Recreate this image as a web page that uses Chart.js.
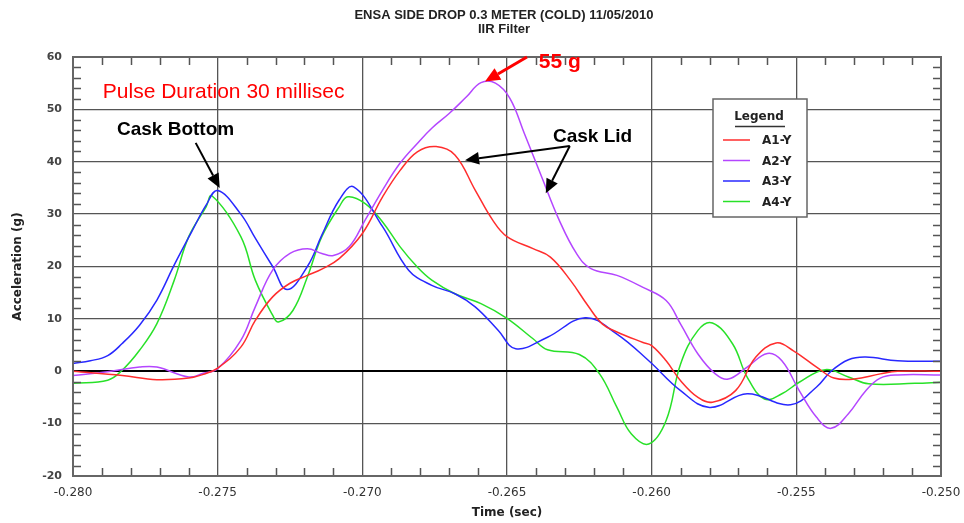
<!DOCTYPE html>
<html>
<head>
<meta charset="utf-8">
<script src="https://cdn.jsdelivr.net/npm/chart.js@4.4.1/dist/chart.umd.min.js"></script>
<style>
  html, body { margin: 0; padding: 0; background: #fff; }
  #wrap { width: 964px; height: 523px; }
</style>
</head>
<body>
<div id="wrap"><canvas id="chart" width="964" height="523"></canvas></div>
<script>
// --- data (time in sec, acceleration in g) ---
const seriesNames = ['A1-Y', 'A2-Y', 'A3-Y', 'A4-Y'];
const seriesColors = ['rgb(255,45,45)', 'rgb(180,70,255)', 'rgb(40,40,255)', 'rgb(40,225,40)'];

const a1Time = [-0.2800,-0.2783,-0.2771,-0.2760,-0.2755,-0.2750,-0.2742,-0.2737,-0.2731,-0.2725,-0.2719,-0.2714,-0.2708,-0.2700,-0.2693,-0.2687,-0.2681,-0.26745,-0.2668,-0.2661,-0.2655,-0.2650,-0.2641,-0.2635,-0.2628,-0.2622,-0.2617,-0.2612,-0.2603,-0.2600,-0.2595,-0.2590,-0.2584,-0.2579,-0.2571,-0.2564,-0.2557,-0.2551,-0.2543,-0.2537,-0.2530,-0.2521,-0.2515,-0.2500];
const a1Accel = [0,-0.8,-1.6,-1.3,-0.6,0.6,4.6,9.7,14.2,16.8,18.3,19.5,21.5,26.3,33.3,38.3,41.9,42.9,41.3,34.6,28.9,25.7,23.4,21.8,17.3,12.5,9,7.5,5.5,4.9,2,-1.8,-5,-5.9,-3.7,2.7,5.4,3.9,0.8,-1.3,-1.5,-0.5,0,0];

const a2Time = [-0.2800,-0.2788,-0.2777,-0.2771,-0.2760,-0.2755,-0.2750,-0.2742,-0.2737,-0.2731,-0.2725,-0.2719,-0.2714,-0.2710,-0.27045,-0.2699,-0.2693,-0.2687,-0.2681,-0.2676,-0.2670,-0.2664,-0.2659,-0.2654,-0.2649,-0.2644,-0.2638,-0.2632,-0.2626,-0.2621,-0.2612,-0.2603,-0.2595,-0.2590,-0.2584,-0.2578,-0.25735,-0.2567,-0.2560,-0.2555,-0.2549,-0.2543,-0.2538,-0.2532,-0.2526,-0.2521,-0.2515,-0.2500];
const a2Accel = [-0.8,-0.1,0.8,0.8,-1.1,-0.4,0.5,5.9,12.3,19.3,22.5,23.4,22.5,22.1,23.8,28.9,34.6,39.7,43.5,46.4,49.2,52.4,55.1,55,52.1,45.4,37.1,28.9,22.5,19.6,18.3,16,13.5,9,3.3,-0.5,-1.5,0.8,3.4,2,-3.7,-8.8,-10.9,-8.1,-3.7,-1.3,-0.7,-0.7];

const a3Time = [-0.2800,-0.2794,-0.2788,-0.2783,-0.2777,-0.2771,-0.2765,-0.2759,-0.2754,-0.2750,-0.2742,-0.2737,-0.2731,-0.2726,-0.2719,-0.2714,-0.2708,-0.2703,-0.2693,-0.2684,-0.2676,-0.2668,-0.2661,-0.2653,-0.2647,-0.2636,-0.2623,-0.2612,-0.2601,-0.2590,-0.2580,-0.2567,-0.2552,-0.2543,-0.2538,-0.2532,-0.2526,-0.2515,-0.2500];
const a3Accel = [1.5,2.0,3.0,5.3,8.8,13.6,20.3,26.6,31.7,34.5,30,25.4,20,15.6,20,26,32.7,35.2,27.6,19.3,16.4,14.8,12.3,7.8,4.3,6.5,10.2,7.1,2,-3.7,-6.9,-4.3,-6.4,-3,0,2.2,2.7,2,1.9];

const a4Time = [-0.2800,-0.2788,-0.2783,-0.2777,-0.2771,-0.2765,-0.2760,-0.2754,-0.2752,-0.2742,-0.2737,-0.2731,-0.2729,-0.2724,-0.2719,-0.2714,-0.2708,-0.2705,-0.2699,-0.2693,-0.2687,-0.2681,-0.2676,-0.2668,-0.2659,-0.2650,-0.2641,-0.2636,-0.2625,-0.2618,-0.2612,-0.2607,-0.2601,-0.2595,-0.2590,-0.2584,-0.2579,-0.2572,-0.2567,-0.2561,-0.2555,-0.2549,-0.2540,-0.2532,-0.2525,-0.2509,-0.2500];
const a4Accel = [-2.3,-1.7,0.2,4,9.1,17.4,25.7,31.4,33.5,25.7,17.4,10.7,9.4,11.6,18,25.7,31.4,33.3,32,28.5,23.8,19.9,17.4,14.8,12.9,10.1,6.2,4.1,3.2,-0.5,-6.9,-12,-13.9,-9.4,1.4,7.8,9.2,5.2,-1.1,-5.3,-4.3,-2.1,0.3,-1.1,-2.4,-2.3,-2.1];

const xMin = -0.280, xMax = -0.250, xStep = 0.005, xMinorStep = 0.001;
const yMin = -20, yMax = 60, yStep = 10, yMinorStep = 2;

const titleLines = ['ENSA SIDE DROP 0.3 METER (COLD) 11/05/2010', 'IIR Filter'];

// annotation text and arrows, positioned in data units
const notes = [
  { text: 'Pulse Duration 30 millisec', t: -0.27897, g: 53.3, color: '#ff0000', font: '21px "Liberation Sans", Arial, sans-serif' },
  { text: 'Cask Bottom', t: -0.27848, g: 46.1, color: '#000', font: 'bold 19px "Liberation Sans", Arial, sans-serif' },
  { text: 'Cask Lid', t: -0.26341, g: 44.7, color: '#000', font: 'bold 19px "Liberation Sans", Arial, sans-serif' },
  { text: '55 g', t: -0.2639, g: 59.1, color: '#ff0000', font: 'bold 21px "Liberation Sans", Arial, sans-serif' }
];
const arrows = [
  { from: [-0.27576, 43.6], to: [-0.27493, 35.0], color: '#000', head: 14, w: 2 },
  { from: [-0.26283, 43.0], to: [-0.26645, 40.3], color: '#000', head: 14, w: 2 },
  { from: [-0.26283, 43.0], to: [-0.26366, 34.0], color: '#000', head: 14, w: 2 },
  { from: [-0.26431, 60.0], to: [-0.26576, 55.3], color: '#ff0000', head: 15, w: 3 }
];

const timeSets = [a1Time, a2Time, a3Time, a4Time];
const accelSets = [a1Accel, a2Accel, a3Accel, a4Accel];

const datasets = seriesNames.map((name, i) => ({
  label: name,
  data: timeSets[i].map((t, j) => ({ x: t, y: accelSets[i][j] })),
  borderColor: seriesColors[i],
  backgroundColor: seriesColors[i],
  borderWidth: 1.5,
  pointRadius: 0,
  tension: 0.4,
  fill: false
}));

const axisFont = '"DejaVu Sans", Verdana, sans-serif';

// frame, minor ticks, title, annotations, legend box
const decor = {
  id: 'decor',
  afterDatasetsDraw(chart) {
    const { ctx, chartArea: a, scales: { x, y } } = chart;
    ctx.save();
    // minor ticks
    ctx.strokeStyle = '#555';
    ctx.lineWidth = 1.5;
    ctx.beginPath();
    for (let v = yMin; v <= yMax; v += yMinorStep) {
      if (v % yStep === 0) continue;
      const py = Math.round(y.getPixelForValue(v)) + 0.5;
      ctx.moveTo(a.left, py); ctx.lineTo(a.left + 8, py);
      ctx.moveTo(a.right, py); ctx.lineTo(a.right - 8, py);
    }
    const n = Math.round((xMax - xMin) / xMinorStep);
    for (let k = 1; k < n; k++) {
      if (k % 5 === 0) continue;
      const px = Math.round(x.getPixelForValue(xMin + k * xMinorStep)) + 0.5;
      ctx.moveTo(px, a.top); ctx.lineTo(px, a.top + 8);
      ctx.moveTo(px, a.bottom); ctx.lineTo(px, a.bottom - 8);
    }
    ctx.stroke();
    // frame
    ctx.strokeStyle = '#666';
    ctx.lineWidth = 2;
    ctx.strokeRect(a.left, a.top, a.right - a.left, a.bottom - a.top);

    // arrows
    arrows.forEach(ar => {
      const x1 = x.getPixelForValue(ar.from[0]), y1 = y.getPixelForValue(ar.from[1]);
      const x2 = x.getPixelForValue(ar.to[0]), y2 = y.getPixelForValue(ar.to[1]);
      const ang = Math.atan2(y2 - y1, x2 - x1);
      const bx = x2 - ar.head * Math.cos(ang), by = y2 - ar.head * Math.sin(ang);
      ctx.strokeStyle = ar.color; ctx.fillStyle = ar.color; ctx.lineWidth = ar.w;
      ctx.beginPath(); ctx.moveTo(x1, y1); ctx.lineTo(bx, by); ctx.stroke();
      const hw = ar.head * 0.45;
      ctx.beginPath();
      ctx.moveTo(x2, y2);
      ctx.lineTo(bx + hw * Math.sin(ang), by - hw * Math.cos(ang));
      ctx.lineTo(bx - hw * Math.sin(ang), by + hw * Math.cos(ang));
      ctx.closePath(); ctx.fill();
    });

    // annotation text
    ctx.textAlign = 'left';
    ctx.textBaseline = 'middle';
    notes.forEach(nt => {
      ctx.font = nt.font;
      ctx.fillStyle = nt.color;
      ctx.fillText(nt.text, x.getPixelForValue(nt.t), y.getPixelForValue(nt.g));
    });

    // legend box
    const lx = a.left + 640, ly = a.top + 42, lw = 94, lh = 118;
    ctx.fillStyle = '#fff';
    ctx.fillRect(lx, ly, lw, lh);
    ctx.strokeStyle = '#666';
    ctx.lineWidth = 1.5;
    ctx.strokeRect(lx, ly, lw, lh);
    ctx.fillStyle = '#222';
    ctx.font = 'bold 12px ' + axisFont;
    ctx.textAlign = 'center';
    ctx.fillText('Legend', lx + 46, ly + 18);
    ctx.lineWidth = 1.5;
    ctx.strokeStyle = '#333';
    ctx.beginPath(); ctx.moveTo(lx + 22, ly + 27.5); ctx.lineTo(lx + 72, ly + 27.5); ctx.stroke();
    ctx.textAlign = 'left';
    seriesNames.forEach((name, i) => {
      const ry = ly + 41 + i * 20.5;
      ctx.strokeStyle = seriesColors[i];
      ctx.lineWidth = 1.5;
      ctx.beginPath(); ctx.moveTo(lx + 10, ry); ctx.lineTo(lx + 37, ry); ctx.stroke();
      ctx.fillStyle = '#222';
      ctx.fillText(name, lx + 49, ry + 1);
    });

    // title
    ctx.fillStyle = '#222';
    ctx.textAlign = 'center';
    ctx.font = 'bold 13px "Liberation Sans", Arial, sans-serif';
    const cx = (a.left + a.right) / 2 - 3;
    ctx.fillText(titleLines[0], cx, 15);
    ctx.fillText(titleLines[1], cx, 29);
    ctx.restore();
  }
};

new Chart(document.getElementById('chart'), {
  type: 'line',
  data: { datasets },
  options: {
    responsive: false,
    animation: false,
    devicePixelRatio: 1,
    layout: { padding: { top: 57, right: 23, left: 0, bottom: 0 } },
    plugins: { legend: { display: false }, tooltip: { enabled: false } },
    scales: {
      x: {
        type: 'linear',
        min: xMin, max: xMax,
        afterFit: s => { s.height = 47; s.paddingLeft = 0; s.paddingRight = 0; },
        ticks: {
          stepSize: xStep, autoSkip: false, maxRotation: 0, padding: 10,
          color: '#333', font: { family: axisFont, size: 12 },
          callback: v => v.toFixed(3)
        },
        grid: { color: '#555', lineWidth: 1.3, drawTicks: false },
        border: { display: false },
        title: { display: true, text: 'Time (sec)', color: '#222', font: { family: axisFont, size: 12, weight: 'bold' }, padding: { top: 0, bottom: 3 } }
      },
      y: {
        min: yMin, max: yMax,
        afterFit: s => { s.width = 73; s.paddingTop = 0; s.paddingBottom = 0; },
        ticks: { stepSize: yStep, padding: 11, color: '#444', font: { family: axisFont, size: 11, weight: 'bold' } },
        grid: {
          color: c => c.tick && c.tick.value === 0 ? '#000' : '#555',
          lineWidth: c => c.tick && c.tick.value === 0 ? 2 : 1.3,
          drawTicks: false
        },
        border: { display: false },
        title: { display: true, text: 'Acceleration (g)', color: '#222', font: { family: axisFont, size: 12, weight: 'bold' }, padding: { top: 11, bottom: 0 } }
      }
    }
  },
  plugins: [decor]
});
</script>
</body>
</html>
